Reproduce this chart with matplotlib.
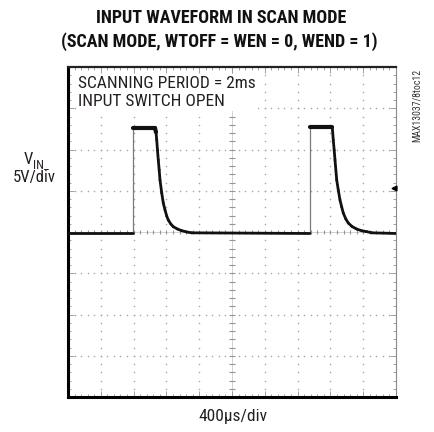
import numpy as np
import matplotlib
matplotlib.use("Agg")
from matplotlib import pyplot as plt

# scope screen: 10 x 400us horizontal, 8 x 5V vertical
x_div = 400.0   # us per division
y_div = 5.0     # V per division
n_xdiv = 10
n_ydiv = 8

# trace (time in us, volts relative to centre line)
trace_us = [0, 793, 793, 1061, 1073, 1082, 1091, 1101, 1112, 1122, 1143, 1162, 1183,
            1204, 1223, 1254, 1284, 1335, 1387, 1448, 1509,
            2951, 2951, 3223, 3235, 3246, 3256, 3277, 3296, 3317, 3338, 3357, 3388,
            3418, 3463, 3520, 3582, 3643, 3707, 4000]
trace_v = [-0.18, -0.18, 12.6, 12.6, 12.1, 11.15, 9.94, 8.73, 7.52, 6.3, 4.73, 3.52, 2.67,
           1.94, 1.45, 0.97, 0.64, 0.36, 0.16, 0.0, -0.1,
           -0.18, 12.7, 12.7, 11.15, 9.94, 8.73, 6.3, 5.09, 3.88, 3.03, 2.3, 1.58,
           1.09, 0.67, 0.36, 0.15, 0.04, -0.1, -0.18]

title_lines = ["INPUT WAVEFORM IN SCAN MODE", "(SCAN MODE, WTOFF = WEN = 0, WEND = 1)"]
note_lines = ["SCANNING PERIOD = 2ms", "INPUT SWITCH OPEN"]
x_label = "400\u00b5s/div"
fig_id = "MAX13037/8toc12"

narrow = ["Roboto Condensed", "DejaVu Sans"]
txt_c = "#231f20"

fig = plt.figure(figsize=(4.35, 4.32), dpi=100)
ax = fig.add_axes([68 / 435, 35 / 432, 328 / 435, 330 / 432])

xmax = n_xdiv * x_div
ymax = n_ydiv / 2 * y_div
ax.set_xlim(0, xmax)
ax.set_ylim(-ymax, ymax)

grid_c = "#a8a8a8"
# dotted graticule
for i in range(1, n_xdiv):
    ys = np.linspace(-ymax, ymax, n_ydiv * 5 + 1)
    ax.scatter(np.full_like(ys, i * x_div), ys, s=1.3, color=grid_c, lw=0, zorder=1)
for j in range(1, n_ydiv):
    xs = np.linspace(0, xmax, n_xdiv * 5 + 1)
    ax.scatter(xs, np.full_like(xs, -ymax + j * y_div), s=1.3, color=grid_c, lw=0, zorder=1)

# centre cross with minor ticks
ax.axvline(xmax / 2, color="#cccccc", lw=0.6, zorder=1)
ax.axhline(0, color="#cccccc", lw=0.6, zorder=1)
ty = np.linspace(-ymax, ymax, n_ydiv * 5 + 1)
ax.scatter(np.full_like(ty, xmax / 2), ty, marker="_", s=14, color="#959595", lw=0.8, zorder=1)
tx = np.linspace(0, xmax, n_xdiv * 5 + 1)
ax.scatter(tx, np.zeros_like(tx), marker="|", s=12, color="#959595", lw=0.8, zorder=1)

# trace: thin grey on the fast edges, heavy black elsewhere
for k in range(len(trace_us) - 1):
    xs = trace_us[k:k + 2]
    ys = trace_v[k:k + 2]
    if xs[0] == xs[1]:
        ax.plot(xs, ys, color="#7a7a7a", lw=0.9, zorder=3)
    elif min(ys) > 12:
        ax.plot(xs, ys, color="#111111", lw=3.0, solid_capstyle="round", zorder=4)
    else:
        ax.plot(xs, ys, color="#111111", lw=2.0, solid_capstyle="round",
                solid_joinstyle="round", zorder=4)

# trigger marker at right edge
ax.plot([xmax * 0.993], [1.07 * y_div], marker="<", ms=3.5, color="black",
        clip_on=False, zorder=5)

# frame
ax.set_xticks(np.arange(0, xmax + 1, x_div))
ax.set_yticks(np.arange(-ymax, ymax + 1, y_div))
ax.set_xticks(np.linspace(0, xmax, n_xdiv * 5 + 1), minor=True)
ax.set_yticks(np.linspace(-ymax, ymax, n_ydiv * 5 + 1), minor=True)
ax.tick_params(which="both", direction="in", top=True, right=True,
               labelbottom=False, labelleft=False, color="#909090", width=0.6)
ax.tick_params(which="major", length=4)
ax.tick_params(which="minor", length=2.5)
ax.spines["left"].set_linewidth(2.2)
ax.spines["bottom"].set_linewidth(2.2)
ax.spines["top"].set_linewidth(1.6)
ax.spines["top"].set_color("#222222")
ax.spines["right"].set_linewidth(0.8)
ax.spines["right"].set_color("#8a8a8a")

# text on the screen, blanking the graticule behind it
ax.text(0.030, 0.972, note_lines[0] + "\n" + note_lines[1], transform=ax.transAxes,
        ha="left", va="top", fontsize=12.5, family=narrow, color=txt_c,
        linespacing=1.2, zorder=6,
        bbox=dict(facecolor="white", edgecolor="none", pad=1.5))

# title
fig.text(221 / 435, 1 - 18 / 432, title_lines[0], ha="center", va="center",
         fontsize=13, fontweight="black", family=narrow, color="#111111")
fig.text(219 / 435, 1 - 42 / 432, title_lines[1], ha="center", va="center",
         fontsize=13, fontweight="black", family=narrow, color="#111111")

# channel label
fig.text(33 / 435, 1 - 160 / 432, "V", ha="right", va="center",
         fontsize=12, family=narrow, color=txt_c)
fig.text(33 / 435, 1 - 165 / 432, "IN_", ha="left", va="center",
         fontsize=9, family=narrow, color=txt_c)
fig.text(34 / 435, 1 - 178 / 432, "5V/div", ha="center", va="center",
         fontsize=12, family=narrow, color=txt_c)

# timebase label
fig.text(233 / 435, 1 - 416 / 432, x_label, ha="center", va="center",
         fontsize=12.5, family=narrow, color=txt_c)

# figure id
fig.text(417 / 435, 1 - 69 / 432, fig_id, ha="center", va="top", rotation=90,
         fontsize=7, family=narrow, color="#333333")

plt.savefig("out.png", dpi=100)
